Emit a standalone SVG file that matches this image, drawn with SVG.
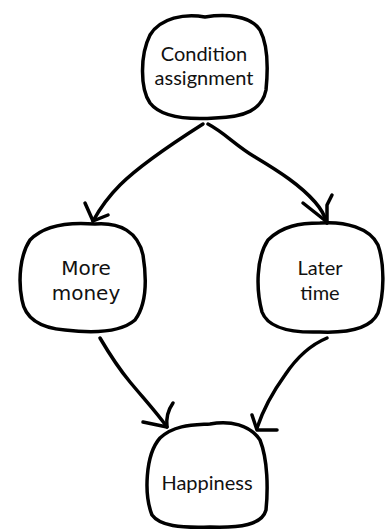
<svg xmlns="http://www.w3.org/2000/svg" width="385" height="530" viewBox="0 0 385 530">
<style>
.shape{fill:none;stroke:#000;stroke-width:3.5;stroke-linecap:round;stroke-linejoin:round}
.lbl{font-family:Lato,"Open Sans",sans-serif;font-size:20px;fill:#111;text-anchor:middle}
.dv{font-family:"DejaVu Sans",sans-serif;font-size:20px}
</style>
<rect width="385" height="530" fill="#fff"/>
<g id="connectors">
<path class="shape" d="M203,124 C170,145 140,165 120,185 C105,200 98,212 93,221"/>
<path class="shape" d="M85,203 L93,221 L108,215"/>
<path class="shape" d="M208,124 C225,133 235,145 255,157 C280,172 300,185 315,202 C322,210 325,216 327,223"/>
<path class="shape" d="M303,203 L327,222 M332,195 L327,205 L327,223"/>
<path class="shape" d="M100,338 C110,355 120,370 130,382 C145,400 157,413 167,427"/>
<path class="shape" d="M143,422 L167,427 M173,403 C168,410 166,418 167,427"/>
<path class="shape" d="M327,338 C310,345 295,360 285,375 C272,393 263,410 257,428"/>
<path class="shape" d="M252,415 L257,430 L277,430"/>
</g>
<g id="condition">
<path class="shape" d="M150,35 C160,18 185,13 205,17 C225,14 250,15 260,30 C268,45 268,70 266,90 C262,110 245,117 215,118 C185,120 160,116 150,103 C140,88 140,55 150,35 Z"/>
<text class="lbl" x="204" y="61">Condition</text>
<text class="lbl" x="204" y="85">assignment</text>
</g>
<g id="money">
<path class="shape" d="M30,240 C45,224 70,222 95,224 C120,222 138,232 143,255 C147,280 146,305 135,320 C120,333 90,333 65,330 C40,328 25,318 22,300 C18,280 20,255 30,240 Z"/>
<text class="lbl dv" x="86" y="275">More</text>
<text class="lbl dv" x="86" y="300">money</text>
</g>
<g id="time">
<path class="shape" d="M268,240 C282,226 300,223 320,223 C345,221 370,228 378,245 C385,265 384,295 378,313 C370,330 345,333 320,332 C290,333 268,328 262,312 C256,290 256,258 268,240 Z"/>
<text class="lbl" x="320" y="275">Later</text>
<text class="lbl" x="320" y="300">time</text>
</g>
<g id="happiness">
<path class="shape" d="M160,438 C175,424 195,425 210,424 C230,420 250,425 260,440 C268,460 268,490 266,510 C262,525 240,528 210,527 C180,528 160,526 152,515 C144,495 145,455 160,438 Z"/>
<text class="lbl" x="207" y="490">Happiness</text>
</g>
</svg>
